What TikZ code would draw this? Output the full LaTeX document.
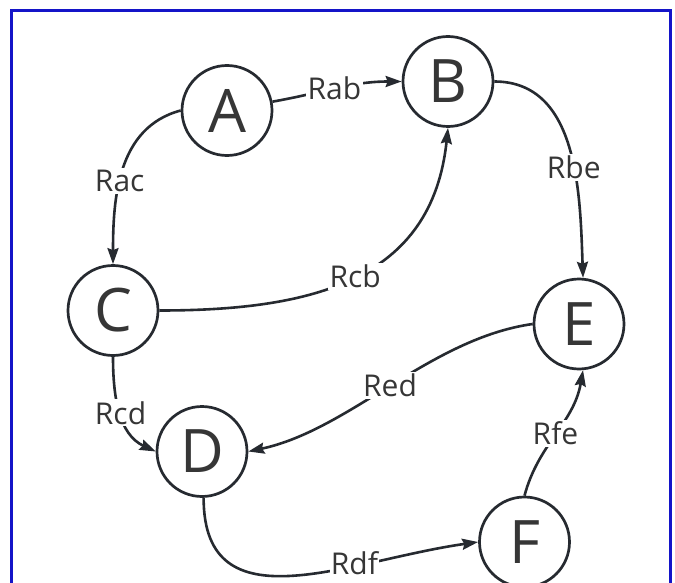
\documentclass[tikz,border=0pt]{standalone}
\usepackage{fontspec}
\setmainfont{Open Sans}
\usetikzlibrary{arrows.meta}
\definecolor{edgecol}{HTML}{262A30}
\definecolor{txtcol}{HTML}{363636}
\definecolor{framecol}{RGB}{20,20,200}
\begin{document}
\begin{tikzpicture}[x=1pt,y=1pt,
  vert/.style={circle,draw=edgecol,line width=2.7pt,minimum size=90pt,inner sep=0pt,font=\fontsize{60}{60}\selectfont,text=txtcol},
  rel/.style={draw=edgecol,line width=2.6pt,-{Stealth[length=16pt,width=11pt,inset=2pt]}},
  lbl/.style={fill=white,inner sep=2pt,font=\fontsize{30}{30}\selectfont,text=txtcol},
]
\useasboundingbox (0,0) rectangle (675,-583);
\fill[white] (0,0) rectangle (675,-583);
\draw[framecol,line width=2.6pt] (11.5,-583) -- (11.5,-10.3) -- (670.5,-10.3) -- (670.5,-583);

\node[vert] (A) at (227,-110.5) {A};
\node[vert] (B) at (448,-81.5) {B};
\node[vert] (C) at (113,-310.5) {C};
\node[vert] (D) at (202,-451.5) {D};
\node[vert] (E) at (579,-324) {E};
\node[vert] (F) at (524.5,-542) {F};

\draw[rel] (A.11) to[out=10,in=180] node[lbl,pos=0.48]{Rab} (B.west);
\draw[rel] (A.west) to[out=195,in=90] node[lbl,pos=0.57]{Rac} (C.north);
\draw[rel] (C.east) to[out=0,in=-96,looseness=1.15] node[lbl,pos=0.5]{Rcb} (B.south);
\draw[rel] (B.east) to[out=0,in=92] node[lbl,pos=0.58]{Rbe} (E.85);
\draw[rel] (E.west) to[out=188,in=12,looseness=0.85] node[lbl,pos=0.5]{Red} (D.east);
\draw[rel] (C.south) to[out=-90,in=155] node[lbl,pos=0.5]{Rcd} (D.west);
\draw[rel] (D.-88) to[out=-90,in=188,looseness=1.2] node[lbl,pos=0.68,inner sep=1pt,yshift=3pt]{Rdf} (F.west);
\draw[rel] (F.north) to[out=75,in=-100] node[lbl,pos=0.5]{Rfe} (E.-85);
\end{tikzpicture}
\end{document}
